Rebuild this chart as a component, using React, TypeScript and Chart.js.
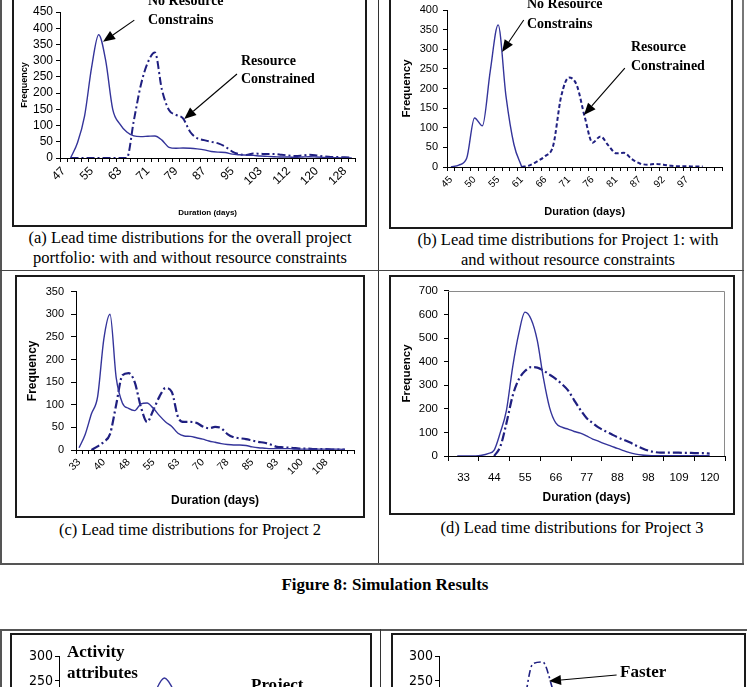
import React, { useEffect, useRef } from "react";
import { Chart, registerables } from "chart.js";

Chart.register(...registerables);

const SANS = "'Liberation Sans', Arial, Helvetica, sans-serif";
const SERIF = "'Liberation Serif', 'Times New Roman', Times, serif";
const NARROW = "'Liberation Sans Narrow', 'Arial Narrow', 'DejaVu Sans Condensed', sans-serif";

const SOLID = "#34349a";
const DASH = "#1f1f80";

// ---------- (a) overall portfolio ----------
const daysA = [47, 49, 51, 53, 55, 57, 59, 61, 63, 65, 67, 69, 71, 73, 75, 77, 79, 81, 83, 85, 87, 89, 91, 93, 95, 97, 99, 101, 103, 106, 108, 110, 112, 114, 116, 118, 120, 122, 124, 126, 128, 130];
const freqAFree = [null, 0, 48, 130, 280, 380, 300, 150, 105, 80, 68, 66, 67, 68, 55, 33, 30, 31, 30, 28, 25, 20, 18, 17, 12, 10, 9, 8, 6, 5, 4, 3, 3, 2, 3, 4, 3, 2, 1, 1, 0, 0];
const freqAConstrained = [null, 0, 0, 0, 0, 0, 0, 0, 0, 0, 115, 225, 295, 325, 210, 148, 133, 122, 81, 61, 55, 50, 45, 35, 20, 12, 9, 14, 13, 12, 12, 10, 8, 6, 8, 10, 8, 5, 3, 3, 2, 1];

// ---------- (b) project 1 ----------
const daysB = [45, 47, 48, 50, 52, 54, 55, 57, 59, 61, 62, 64, 66, 68, 69, 71, 73, 74, 76, 78, 80, 81, 83, 85, 87, 88, 90, 92, 94, 95, 97, 99, 100, 102, 104];
const freqBFree = [0, 5, 22, 125, 105, 245, 362, 180, 58, 0, null, null, null, null, null, null, null, null, null, null, null, null, null, null, null, null, null, null, null, null, null, null, null, null, null];
const freqBConstrained = [null, null, null, null, null, null, null, null, null, 0, 4, 15, 28, 55, 179, 228, 208, 128, 62, 78, 55, 35, 36, 20, 9, 6, 8, 6, 3, 2, 2, 1, 1, null, null];

// ---------- (c) project 2 ----------
const daysC = [33, 35, 37, 39, 40, 42, 44, 46, 48, 50, 52, 54, 55, 57, 59, 61, 63, 65, 67, 69, 70, 72, 74, 76, 78, 80, 82, 84, 85, 87, 89, 91, 93, 95, 97, 99, 100, 102, 104, 106, 108, 110, 112, 114, 115];
const freqCFree = [5, 35, 80, 118, 245, 300, 160, 104, 92, 87, 102, 104, 92, 76, 62, 52, 37, 31, 30, 27, 24, 20, 17, 14, 12, 11, 11, 10, 7, 5, 4, 3, 3, 3, 3, 2, 2, 2, 2, 2, 2, 2, 2, 1, null];
const freqCConstrained = [null, null, 0, 8, 18, 35, 100, 165, 170, 150, 95, 62, 88, 118, 137, 128, 73, 62, 62, 60, 52, 48, 51, 48, 35, 28, 26, 24, 21, 18, 16, 12, 7, 6, 5, 4, 3, 3, 2, 2, 2, 1, 1, 1, null];

// ---------- (d) project 3 ----------
const daysD = [33, 35, 37, 40, 42, 44, 46, 48, 50, 53, 55, 57, 59, 61, 64, 66, 68, 70, 72, 74, 77, 79, 81, 83, 85, 88, 90, 92, 94, 96, 98, 101, 103, 105, 107, 109, 112, 114, 116, 118, 120, 122, 125, 127, 129];
const freqDFree = [null, 0, 0, 0, 0, 3, 10, 25, 100, 195, 377, 520, 610, 580, 490, 330, 205, 140, 122, 114, 104, 97, 85, 72, 62, 51, 42, 32, 23, 14, 8, 4, 2, 1, 1, 1, 1, 1, 1, 1, 1, 1, 1, null, null];
const freqDConstrained = [null, null, null, null, null, null, null, 0, 40, 140, 255, 325, 360, 377, 375, 362, 345, 327, 305, 278, 236, 196, 161, 140, 120, 106, 93, 80, 69, 58, 45, 33, 23, 17, 14, 14, 14, 14, 13, 13, 12, 12, 10, null, null];

// ---------- lower figure (partly visible) ----------
const daysE = [30, 32, 34, 36, 38, 40, 42, 44, 46, 48, 50, 52, 54, 56, 58, 60, 62, 64, 66, 68, 70, 72, 74, 76, 78, 80, 82, 84, 86, 88];
const freqEActivity = [0, 0, 0, 4, 15, 40, 80, 130, 180, 225, 256, 228, 175, 130, 100, 82, 70, 58, 48, 40, 32, 25, 19, 14, 10, 7, 5, 3, 2, 1];
const freqFFaster = [0, 0, 0, 0, 3, 12, 40, 100, 190, 284, 288, 235, 160, 110, 80, 60, 48, 38, 30, 24, 18, 14, 10, 8, 6, 4, 3, 2, 1, 0];

type Arrow = { from: [number, number]; to: [number, number] };

const arrowPlugin = {
  id: "arrows",
  afterDatasetsDraw(chart: any, _a: any, opts: any) {
    const items: Arrow[] = (opts && opts.items) || [];
    const xs = chart.scales.x, ys = chart.scales.y;
    const ctx = chart.ctx;
    ctx.save();
    ctx.strokeStyle = "#000";
    ctx.fillStyle = "#000";
    ctx.lineWidth = 1.1;
    for (const a of items) {
      const x1 = xs.getPixelForValue(a.from[0]);
      const y1 = ys.getPixelForValue(a.from[1]);
      const x2 = xs.getPixelForValue(a.to[0]);
      const y2 = ys.getPixelForValue(a.to[1]);
      const ang = Math.atan2(y2 - y1, x2 - x1);
      const hl = 12, hw = 5;
      const c = Math.cos(ang), s = Math.sin(ang);
      const bx = x2 - hl * c, by = y2 - hl * s;
      ctx.beginPath();
      ctx.moveTo(x1, y1);
      ctx.lineTo(bx, by);
      ctx.stroke();
      ctx.beginPath();
      ctx.moveTo(x2, y2);
      ctx.lineTo(bx - hw * s, by + hw * c);
      ctx.lineTo(bx + hw * s, by - hw * c);
      ctx.closePath();
      ctx.fill();
    }
    ctx.restore();
  },
};

const framePlugin = {
  id: "plotFrame",
  beforeDatasetsDraw(chart: any, _a: any, opts: any) {
    if (!opts || !opts.show) return;
    const { left, top, right, bottom } = chart.chartArea;
    const ctx = chart.ctx;
    ctx.save();
    ctx.strokeStyle = "#8a8a8a";
    ctx.lineWidth = 1;
    ctx.beginPath();
    ctx.moveTo(left, Math.round(top) + 0.5);
    ctx.lineTo(Math.round(right) - 0.5, Math.round(top) + 0.5);
    ctx.lineTo(Math.round(right) - 0.5, bottom);
    ctx.stroke();
    ctx.restore();
  },
};

type Series = { data: (number | null)[]; color: string; width: number; dash: number[] };
type Spec = {
  labels: number[];
  series: Series[];
  labelEvery: number;
  lastLabel?: number;
  tickEvery?: number;
  labelOffset?: number;
  rotation: number;
  yMax: number;
  yStep: number;
  yFont: number;
  yFamily?: string;
  xFont: number;
  yTitle?: { size: number; pad: number };
  xTitle?: { size: number; pad: number };
  yWidth: number;
  xHeight: number;
  pad: { left: number; right: number; top: number; bottom: number };
  yTick: [number, number];
  xTick: [number, number];
  arrows?: Arrow[];
  frame?: boolean;
  showX?: boolean;
};

function buildConfig(s: Spec): any {
  const every = s.tickEvery ?? 1;
  const last = s.lastLabel ?? s.labels.length - 1;
  return {
    type: "line",
    data: {
      labels: s.labels.map(String),
      datasets: s.series.map((d) => ({
        data: d.data,
        borderColor: d.color,
        borderWidth: d.width,
        borderDash: d.dash,
        pointRadius: 0,
        fill: false,
        cubicInterpolationMode: "monotone",
        spanGaps: false,
        borderCapStyle: "butt",
        borderJoinStyle: "round",
      })),
    },
    options: {
      animation: false,
      responsive: false,
      devicePixelRatio: 1,
      events: [],
      layout: { padding: s.pad, autoPadding: false },
      plugins: {
        legend: { display: false },
        tooltip: { enabled: false },
        title: { display: false },
        arrows: { items: s.arrows ?? [] },
        plotFrame: { show: !!s.frame },
      },
      scales: {
        x: {
          type: "category",
          offset: true,
          display: s.showX !== false,
          grid: {
            display: true,
            drawOnChartArea: false,
            drawTicks: true,
            offset: true,
            tickLength: s.xTick[0],
            color: "#000",
            tickColor: (ctx: any) =>
              ctx.index === undefined || ctx.index % every === 0 ? "#000" : "rgba(0,0,0,0)",
          },
          border: { display: true, color: "#000", width: 1 },
          ticks: {
            autoSkip: false,
            minRotation: s.rotation,
            maxRotation: s.rotation,
            padding: s.xTick[1],
            labelOffset: s.labelOffset ?? 0,
            color: "#000",
            font: { family: SANS, size: s.xFont },
            callback: (_v: any, i: number) =>
              i % s.labelEvery === 0 && i <= last ? String(s.labels[i]) : "",
          },
          title: s.xTitle
            ? {
                display: true,
                text: "Duration (days)",
                color: "#000",
                font: { family: SANS, size: s.xTitle.size, weight: "bold" },
                padding: { top: 0, bottom: s.xTitle.pad },
              }
            : { display: false },
          afterFit: (sc: any) => {
            sc.height = s.xHeight;
          },
        },
        y: {
          min: 0,
          max: s.yMax,
          grid: { drawOnChartArea: false, drawTicks: true, tickLength: s.yTick[0], color: "#000" },
          border: { display: true, color: "#000", width: 1 },
          ticks: {
            autoSkip: false,
            stepSize: s.yStep,
            padding: s.yTick[1],
            color: "#000",
            font: { family: s.yFamily ?? SANS, size: s.yFont },
            callback: (v: any) => String(v),
          },
          title: s.yTitle
            ? {
                display: true,
                text: "Frequency",
                color: "#000",
                font: { family: SANS, size: s.yTitle.size, weight: "bold" },
                padding: { top: s.yTitle.pad, bottom: 0 },
              }
            : { display: false },
          afterFit: (sc: any) => {
            sc.width = s.yWidth;
          },
        },
      },
    },
    plugins: [arrowPlugin, framePlugin],
  };
}

function ChartBox(props: { left: number; top: number; width: number; height: number; spec: Spec }) {
  const ref = useRef<HTMLCanvasElement | null>(null);
  useEffect(() => {
    if (!ref.current) return;
    const chart = new Chart(ref.current, buildConfig(props.spec));
    return () => chart.destroy();
  }, []);
  return (
    <canvas
      ref={ref}
      width={props.width}
      height={props.height}
      style={{
        position: "absolute",
        left: props.left,
        top: props.top,
        width: props.width,
        height: props.height,
        display: "block",
      }}
    />
  );
}

function Rect(p: { l: number; t: number; w: number; h: number; bg?: string; border?: string }) {
  return (
    <div
      style={{
        position: "absolute",
        left: p.l,
        top: p.t,
        width: p.w,
        height: p.h,
        background: p.bg ?? "transparent",
        border: p.border,
        boxSizing: "border-box",
      }}
    />
  );
}

function Txt(p: {
  l: number;
  t: number;
  w?: number;
  size: number;
  lh: number;
  bold?: boolean;
  align?: "left" | "center";
  children: React.ReactNode;
}) {
  return (
    <div
      style={{
        position: "absolute",
        left: p.l,
        top: p.t,
        width: p.w,
        fontFamily: SERIF,
        fontSize: p.size,
        lineHeight: p.lh + "px",
        fontWeight: p.bold ? "bold" : "normal",
        textAlign: p.align ?? "left",
        whiteSpace: "nowrap",
        color: "#000",
      }}
    >
      {p.children}
    </div>
  );
}

const specA: Spec = {
  labels: daysA,
  series: [
    { data: freqAFree, color: SOLID, width: 1.4, dash: [] },
    { data: freqAConstrained, color: DASH, width: 2, dash: [8, 3, 2, 3] },
  ],
  labelEvery: 4,
  lastLabel: 40,
  rotation: 45,
  yMax: 450,
  yStep: 50,
  yFont: 12,
  xFont: 12,
  yTitle: { size: 9, pad: 5.6 },
  xTitle: { size: 8, pad: 6.2 },
  yWidth: 46,
  xHeight: 66,
  pad: { left: 0, right: 2, top: 24, bottom: 0 },
  yTick: [4, 3],
  xTick: [4, 2],
  arrows: [
    { from: [10.07, 425], to: [5.62, 358] },
    { from: [24.67, 259], to: [17.16, 120] },
  ],
};

const specB: Spec = {
  labels: daysB,
  series: [
    { data: freqBFree, color: SOLID, width: 1.4, dash: [] },
    { data: freqBConstrained, color: DASH, width: 2, dash: [4, 2.5] },
  ],
  labelEvery: 3,
  lastLabel: 30,
  rotation: 45,
  yMax: 400,
  yStep: 50,
  yFont: 11,
  xFont: 10,
  yTitle: { size: 11.5, pad: 7.8 },
  xTitle: { size: 11, pad: 5.4 },
  yWidth: 55,
  xHeight: 57,
  pad: { left: 0, right: 3, top: 22, bottom: 0 },
  yTick: [4, 5],
  xTick: [4, 3],
  arrows: [
    { from: [9.25, 374.5], to: [6.5, 293] },
    { from: [22.1, 252], to: [16.9, 132.5] },
  ],
};

const specC: Spec = {
  labels: daysC,
  series: [
    { data: freqCFree, color: SOLID, width: 1.4, dash: [] },
    { data: freqCConstrained, color: DASH, width: 2.2, dash: [9, 3, 2, 3] },
  ],
  labelEvery: 4,
  lastLabel: 40,
  rotation: 45,
  yMax: 350,
  yStep: 50,
  yFont: 11,
  xFont: 10.5,
  yTitle: { size: 12, pad: 8.1 },
  xTitle: { size: 12, pad: 7.1 },
  yWidth: 59,
  xHeight: 65,
  pad: { left: 0, right: 2, top: 13, bottom: 0 },
  yTick: [5, 7],
  xTick: [4, 2],
};

const specD: Spec = {
  labels: daysD,
  series: [
    { data: freqDFree, color: SOLID, width: 1.4, dash: [] },
    { data: freqDConstrained, color: DASH, width: 2.2, dash: [9, 3, 2, 3] },
  ],
  labelEvery: 5,
  lastLabel: 40,
  tickEvery: 5,
  labelOffset: 12.5,
  rotation: 0,
  yMax: 700,
  yStep: 100,
  yFont: 11.5,
  xFont: 11.5,
  yTitle: { size: 11.5, pad: 9.1 },
  xTitle: { size: 12, pad: 5.8 },
  yWidth: 57,
  xHeight: 55,
  pad: { left: 0, right: 2.5, top: 12, bottom: 0 },
  yTick: [4, 6],
  xTick: [5, 10],
  frame: true,
};

const specE: Spec = {
  labels: daysE,
  series: [{ data: freqEActivity, color: SOLID, width: 1.4, dash: [] }],
  labelEvery: 5,
  rotation: 0,
  yMax: 300,
  yStep: 50,
  yFont: 14,
  yFamily: NARROW,
  xFont: 12,
  yWidth: 47,
  xHeight: 0,
  pad: { left: 0, right: 10, top: 21, bottom: 49 },
  yTick: [4, 2],
  xTick: [4, 2],
  showX: false,
};

const specF: Spec = {
  labels: daysE,
  series: [{ data: freqFFaster, color: DASH, width: 1.6, dash: [7, 3, 2, 3] }],
  labelEvery: 5,
  rotation: 0,
  yMax: 300,
  yStep: 50,
  yFont: 14,
  yFamily: NARROW,
  xFont: 12,
  yWidth: 46,
  xHeight: 0,
  pad: { left: 0, right: 8, top: 21, bottom: 49 },
  yTick: [4, 2],
  xTick: [4, 2],
  showX: false,
  arrows: [{ from: [17.5, 262], to: [10.65, 250] }],
};

export default function App() {
  const line = "#555";
  const box = "2px solid #1a1a1a";
  return (
    <div
      style={{
        position: "absolute",
        left: 0,
        top: 0,
        width: 747,
        height: 687,
        overflow: "hidden",
        background: "#fff",
      }}
    >
      {/* upper table frame */}
      <Rect l={0} t={-5} w={2} h={570} bg={line} />
      <Rect l={742} t={-5} w={2} h={570} bg="#777" />
      <Rect l={378} t={-5} w={1} h={570} bg="#333" />
      <Rect l={0} t={270} w={744} h={1} bg="#444" />
      <Rect l={0} t={563} w={744} h={2} bg={line} />

      {/* chart boxes */}
      <Rect l={12} t={-10} w={355} h={237} border={box} />
      <Rect l={389} t={-10} w={344} h={238.5} border={box} />
      <Rect l={15} t={275} w={350} h={242.5} border={box} />
      <Rect l={389} t={275} w={346} h={240} border={box} />

      <ChartBox left={14} top={-12} width={350} height={236} spec={specA} />
      <ChartBox left={392} top={-12} width={338} height={236} spec={specB} />
      <ChartBox left={17} top={278} width={345} height={237} spec={specC} />
      <ChartBox left={391} top={278} width={341} height={233} spec={specD} />

      {/* annotations (a) */}
      <Txt l={148} t={-9} size={14} lh={19} bold>
        No Resource
        <br />
        Constrains
      </Txt>
      <Txt l={241} t={52} size={14} lh={18} bold>
        Resource
        <br />
        Constrained
      </Txt>
      {/* annotations (b) */}
      <Txt l={527} t={-6} size={14} lh={20} bold>
        No Resource
        <br />
        Constrains
      </Txt>
      <Txt l={631} t={36.5} size={14} lh={19} bold>
        Resource
        <br />
        Constrained
      </Txt>

      {/* captions */}
      <Txt l={2} t={228} w={376} size={16.5} lh={20} align="center">
        (a) Lead time distributions for the overall project
        <br />
        portfolio: with and without resource constraints
      </Txt>
      <Txt l={386} t={230} w={364} size={16.5} lh={20} align="center">
        (b) Lead time distributions for Project 1: with
        <br />
        and without resource constraints
      </Txt>
      <Txt l={2} t={520} w={376} size={16.5} lh={20} align="center">
        (c) Lead time distributions for Project 2
      </Txt>
      <Txt l={386} t={518} w={372} size={16.5} lh={20} align="center">
        (d) Lead time distributions for Project 3
      </Txt>

      <Txt l={0} t={575} w={770} size={17} lh={20} bold align="center">
        Figure 8: Simulation Results
      </Txt>

      {/* lower table (cut off) */}
      <Rect l={0} t={629} w={747} h={2} bg={line} />
      <Rect l={0} t={629} w={2} h={80} bg={line} />
      <Rect l={380} t={629} w={1} h={80} bg="#333" />
      <Rect l={10} t={633} w={362} h={80} border={box} />
      <Rect l={391} t={633} w={355} h={80} border={box} />

      <ChartBox left={12} top={635} width={358} height={220} spec={specE} />
      <ChartBox left={393} top={635} width={350} height={220} spec={specF} />

      <Txt l={67} t={640.5} size={17} lh={21} bold>
        Activity
        <br />
        attributes
      </Txt>
      <Txt l={251} t={674} size={17} lh={21} bold>
        Project
      </Txt>
      <Txt l={620} t={661} size={17} lh={21} bold>
        Faster
      </Txt>
    </div>
  );
}
